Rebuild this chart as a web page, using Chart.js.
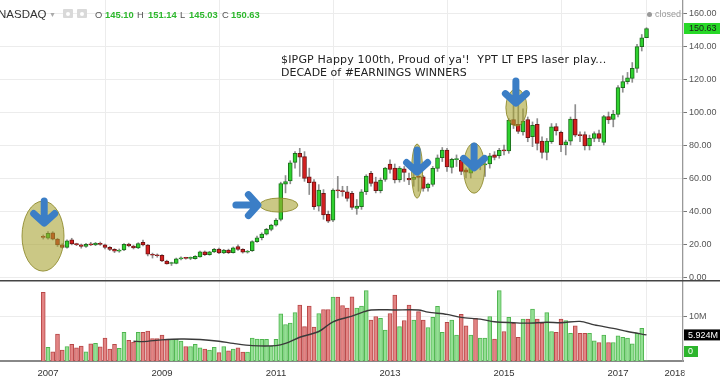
<!DOCTYPE html>
<html><head><meta charset="utf-8">
<script src="https://cdn.jsdelivr.net/npm/chart.js@4.4.0/dist/chart.umd.min.js"></script>
<style>
html,body{margin:0;padding:0;background:#fff;width:720px;height:379px;overflow:hidden;font-family:"Liberation Sans",Arial,sans-serif;}
#wrap{position:relative;width:720px;height:379px;}
canvas{position:absolute;left:0;}
#pc{top:0;}
#vc{top:280px;}
.t{position:absolute;white-space:pre;line-height:1;}
.h{top:10px;font-size:9.4px;color:#555;}
.g{top:10px;font-size:9.4px;color:#2eb82e;font-weight:bold;}
.ico{position:absolute;top:9px;width:10px;height:9px;background:#d9d9d9;border-radius:1px;}
.ico i{position:absolute;left:3px;top:2.5px;width:4px;height:4px;border-radius:50%;background:#fff;}
.note{left:281px;font-family:"DejaVu Sans",sans-serif;font-size:11px;color:#222;}
</style></head>
<body><div id="wrap">
<canvas id="pc" width="720" height="280"></canvas>
<canvas id="vc" width="720" height="99"></canvas>
<div class="t" style="left:-2px;top:9px;font-size:11.5px;color:#333">NASDAQ</div>
<div class="t" style="left:49px;top:11px;font-size:7px;color:#aaa">▼</div>
<div class="ico" style="left:63px"><i></i></div>
<div class="ico" style="left:77px"><i></i></div>
<div class="t h" style="left:95px">O</div><div class="t g" style="left:105px">145.10</div>
<div class="t h" style="left:137px">H</div><div class="t g" style="left:148px">151.14</div>
<div class="t h" style="left:180px">L</div><div class="t g" style="left:189px">145.03</div>
<div class="t h" style="left:222px">C</div><div class="t g" style="left:231px">150.63</div>
<div style="position:absolute;left:647px;top:11.5px;width:5px;height:5px;border-radius:50%;background:#999"></div>
<div class="t" style="left:655px;top:9.5px;font-size:9px;color:#999">closed</div>
<div class="t note" style="top:54px;letter-spacing:0.17px">$IPGP Happy 100th, Proud of ya'!  YPT LT EPS laser play...</div>
<div class="t note" style="top:67px">DECADE of #EARNINGS WINNERS</div>
</div>
<script>
// Monthly candles, Dec 2006 (index 0) .. Jul 2017 (index 127)
const opens = [24.5,23.5,26.8,23.0,19.5,18.0,22.5,20.0,19.5,18.5,20.0,19.5,20.5,19.5,18.0,16.8,15.6,16.4,20.0,18.8,
17.6,21.0,19.4,13.6,13.2,13.2,9.7,8.2,8.3,11.0,11.4,11.3,11.2,12.2,15.2,13.6,15.2,17.0,14.6,16.4,
14.8,18.4,16.8,15.0,16.0,21.5,23.8,26.0,28.9,31.5,34.9,56.3,58.2,69.5,75.0,73.0,60.8,57.7,43.0,50.7,
38.0,34.5,52.7,52.3,51.7,50.7,41.6,42.6,51.7,62.8,57.7,52.3,59.2,68.5,66.0,58.8,65.6,59.8,59.2,61.0,
60.8,54.0,56.1,65.9,72.3,77.0,66.5,71.2,70.8,65.0,62.9,68.2,67.5,68.0,68.5,74.0,73.5,77.0,76.5,95.5,
92.5,88.0,95.5,85.0,92.5,82.4,75.5,82.0,91.2,87.7,80.0,82.4,95.7,86.4,86.4,79.5,84.0,87.0,81.6,97.2,
95.5,98.6,114.8,118.4,120.4,126.5,139.6,145.10];
const highs = [25.5,27.5,27.5,23.5,20.2,22.5,23.5,20.5,20.0,20.5,21.0,21.0,21.2,20.0,18.5,17.2,17.0,20.3,20.5,19.3,
20.8,22.4,19.8,14.5,14.0,13.6,10.2,9.0,11.5,12.2,12.0,12.2,13.0,15.8,15.8,15.6,17.4,17.6,16.8,16.9,
18.2,19.5,17.2,16.2,22.0,24.8,26.8,29.5,32.0,35.5,57.5,61.5,70.5,76.0,78.0,76.0,66.0,59.0,56.0,53.0,
40.0,53.5,61.0,55.0,55.0,52.0,47.0,53.0,62.0,64.0,60.5,60.0,66.5,71.0,68.5,67.0,67.0,63.0,63.0,64.0,
61.5,57.0,67.0,74.0,78.5,78.0,72.0,74.0,72.0,66.0,69.0,70.0,69.0,70.0,75.0,76.0,78.0,80.0,96.0,104.0,
105.0,102.0,97.0,94.0,96.0,85.0,84.0,93.0,93.0,88.5,83.0,97.0,104.5,88.0,88.0,86.0,88.0,89.0,98.0,100.0,
101.0,116.0,122.0,124.0,130.0,141.0,147.0,151.14];
const lows = [23.0,23.0,22.5,18.5,17.5,17.5,19.5,19.0,17.5,18.0,19.0,19.0,19.2,17.0,16.0,14.8,15.0,16.0,18.3,17.0,
17.2,18.8,12.8,11.5,12.0,9.3,7.8,7.0,8.0,10.3,10.8,10.5,10.8,12.0,13.0,13.2,14.8,14.2,14.2,14.2,
14.5,16.2,14.5,14.5,15.5,21.0,22.5,25.5,28.0,30.8,34.0,51.0,56.5,66.0,61.0,58.0,50.0,41.0,40.0,35.0,
33.0,33.5,48.0,49.0,46.0,41.0,38.0,41.0,50.0,55.0,51.0,51.0,58.0,63.0,57.0,57.5,58.0,56.0,55.0,52.0,
52.0,52.0,55.0,64.0,70.0,64.0,63.0,67.0,62.0,60.0,60.0,66.0,65.0,61.0,66.0,71.0,72.0,74.0,75.0,90.0,
87.0,86.0,82.0,79.0,77.0,72.0,71.0,81.0,86.0,76.0,74.0,80.0,85.0,82.0,77.0,77.0,82.0,82.0,80.0,93.0,
91.0,97.0,112.0,117.0,118.0,124.0,137.0,145.03];
const closes = [24.0,26.5,23.0,19.5,18.0,22.0,20.0,19.6,18.5,19.8,19.5,20.5,19.8,18.0,16.8,15.6,16.4,19.8,18.8,17.6,
20.2,19.4,13.8,13.2,12.9,9.7,8.0,8.6,11.0,11.4,11.3,11.6,12.6,15.2,13.6,15.2,16.8,14.6,16.4,14.8,
17.7,16.8,15.0,15.5,21.5,23.8,26.0,28.9,31.5,34.5,56.7,57.8,69.2,75.0,72.6,59.8,57.2,42.6,52.7,37.6,
33.9,52.7,52.2,51.8,47.7,42.2,43.0,51.7,61.2,56.7,52.3,58.8,66.0,65.2,58.8,66.0,63.4,58.8,60.4,60.3,
53.7,56.3,65.9,72.3,77.0,66.8,71.4,71.6,64.0,63.5,68.0,67.2,68.3,68.6,73.5,72.5,76.8,76.5,95.1,92.2,
88.2,94.5,84.5,92.0,81.0,75.5,82.4,91.0,88.6,80.0,82.0,95.7,86.0,85.7,79.5,84.0,87.0,84.0,97.2,95.2,
98.7,114.8,118.4,120.7,126.5,139.6,145.0,150.63];
// Monthly volume, millions of shares
const volumes = [15.6,3.1,2.1,6.1,2.5,3.3,3.8,3.0,3.4,2.1,3.9,4.0,3.2,5.2,2.7,3.8,2.9,6.5,4.7,4.3,
6.5,6.5,6.8,5.1,5.1,5.9,5.0,4.9,4.9,4.5,3.3,3.3,3.8,3.0,2.7,2.5,3.1,1.9,3.3,2.3,
2.7,3.0,2.0,2.0,5.2,5.0,4.9,4.9,3.4,4.9,10.7,8.3,8.6,11.0,12.7,7.8,12.5,7.7,10.8,11.7,
11.7,14.5,14.5,12.6,12.0,14.6,12.0,12.5,16.0,9.3,10.1,9.7,7.0,10.8,15.0,7.8,9.2,12.7,9.3,11.2,
9.3,7.6,9.9,12.4,6.5,8.8,9.3,5.9,10.6,8.0,5.9,9.7,5.2,5.2,10.1,5.0,16.0,6.7,9.9,8.6,
5.4,9.5,9.5,11.8,9.5,8.6,11.0,6.7,6.5,9.5,9.2,6.3,8.0,6.3,6.3,6.3,4.6,4.2,5.9,4.2,
4.2,5.7,5.4,5.2,3.9,6.3,7.4,0.05];
// 20-month volume moving average, read at these month indices
const maMonths = [19,21,25,29,33,37,40,44,49,51,54,58,61,65,67,69,74,79,81,85,88,92,95,99,102,106,109,113,116,120,123,127];
const maValues = [4.5,4.4,4.8,5.0,4.9,4.5,4.0,3.5,3.5,4.0,5.4,6.7,8.9,10.2,11.0,11.6,11.6,11.6,11.1,10.6,9.9,9.5,8.9,8.7,8.6,8.8,8.7,9.0,8.2,7.4,6.7,5.924];
const yearLabels = ['2007','2009','2011','2013','2015','2017','2018'];
const priceTicks = [0,20,40,60,80,100,120,140,160];

const X_MIN = -9.105, X_MAX = 134.68;
const idx = closes.map((_, i) => i);
const isUp = i => closes[i] >= opens[i];
const yearTickValues = yearLabels.map(y => (parseInt(y) - 2007) * 12 + 1);
Chart.defaults.font.family = "'Liberation Sans', Arial, sans-serif";

const noPad = s => { s.paddingTop = 0; s.paddingBottom = 0; s.paddingLeft = 0; s.paddingRight = 0; };
const xScaleBase = {
  type: 'linear', min: X_MIN, max: X_MAX, offset: false,
  afterBuildTicks: s => { s.ticks = yearTickValues.map(v => ({value: v})); },
  grid: {color: '#ececec', drawTicks: false}
};

const annotations = {
  ellipses: [
    {m: -0.05, p: 24.8, rx: 21, ry: 35},
    {m: 49.6, p: 43.6, rx: 19, ry: 7},
    {m: 78.7, p: 64.2, rx: 5.5, ry: 27},
    {m: 90.7, p: 66.0, rx: 10.5, ry: 25},
    {m: 99.6, p: 102.7, rx: 10.5, ry: 18.5}
  ],
  arrows: [
    {m: 0.2, p: 32.1, dir: 'down'},
    {m: 45.4, p: 43.6, dir: 'right'},
    {m: 78.7, p: 63.0, dir: 'down'},
    {m: 90.7, p: 65.5, dir: 'down'},
    {m: 99.5, p: 104.8, dir: 'down'}
  ]
};

const annotPlugin = {
  id: 'annot',
  afterDatasetsDraw(chart) {
    const {ctx, scales: {x, y}, chartArea: ca} = chart;
    ctx.save();
    ctx.beginPath(); ctx.rect(ca.left, ca.top, ca.right - ca.left, ca.bottom - ca.top); ctx.clip();
    annotations.ellipses.forEach(e => {
      ctx.beginPath();
      ctx.ellipse(x.getPixelForValue(e.m), y.getPixelForValue(e.p), e.rx, e.ry, 0, 0, Math.PI * 2);
      ctx.fillStyle = 'rgba(165,160,45,0.58)'; ctx.fill();
      ctx.strokeStyle = 'rgba(140,135,40,0.85)'; ctx.lineWidth = 1; ctx.stroke();
    });
    ctx.strokeStyle = '#3b7ec6'; ctx.lineWidth = 7; ctx.lineCap = 'round'; ctx.lineJoin = 'round';
    annotations.arrows.forEach(a => {
      const px = x.getPixelForValue(a.m), py = y.getPixelForValue(a.p), L = 23, h = 10.5;
      ctx.beginPath();
      if (a.dir === 'down') {
        ctx.moveTo(px, py - L); ctx.lineTo(px, py - 2);
        ctx.moveTo(px - h, py - h); ctx.lineTo(px, py - 1); ctx.lineTo(px + h, py - h);
      } else {
        ctx.moveTo(px - L, py); ctx.lineTo(px - 2, py);
        ctx.moveTo(px - h, py - h); ctx.lineTo(px - 1, py); ctx.lineTo(px - h, py + h);
      }
      ctx.stroke();
    });
    ctx.restore();
    // last price label
    const yy = y.getPixelForValue(closes[closes.length - 1]);
    ctx.save();
    ctx.fillStyle = '#27d827'; ctx.fillRect(684, yy - 5.5, 36, 11);
    ctx.fillStyle = '#1b1b1b'; ctx.font = "9px 'Liberation Sans', Arial"; ctx.textBaseline = 'middle';
    ctx.fillText(closes[closes.length - 1].toFixed(2), 689, yy + 0.5);
    ctx.restore();
  }
};

new Chart(document.getElementById('pc'), {
  type: 'bar',
  data: { datasets: [
    { data: idx.map(i => ({x: i, y: [lows[i], highs[i]]})), backgroundColor: '#8e8e8e', barThickness: 1, grouped: false, order: 2 },
    { data: idx.map(i => ({x: i, y: [opens[i], closes[i]]})),
      backgroundColor: idx.map(i => isUp(i) ? '#2fd12f' : '#d51f1f'),
      borderColor: idx.map(i => isUp(i) ? '#1d6e1d' : '#6e1414'),
      borderWidth: 1, borderSkipped: false, barThickness: 4, minBarLength: 1, grouped: false, order: 1 }
  ]},
  options: {
    responsive: false, animation: false, events: [],
    layout: {padding: 0},
    plugins: {legend: {display: false}, tooltip: {enabled: false}},
    scales: {
      x: Object.assign({}, xScaleBase, {ticks: {display: false}, border: {display: false}, afterFit: s => { s.height = 0; noPad(s); }}),
      y: {position: 'right', min: -1.8, max: 167.9,
        afterBuildTicks: s => { s.ticks = priceTicks.map(v => ({value: v})); },
        ticks: {callback: v => Number(v).toFixed(2), color: '#555', font: {size: 9}, padding: 2},
        grid: {color: '#ececec', tickLength: 4, tickColor: '#777'},
        border: {color: '#999', width: 1.3},
        afterFit: s => { s.width = 37; noPad(s); } }
    }
  },
  plugins: [annotPlugin]
});

const volPlugin = {
  id: 'volLabels',
  afterDraw(chart) {
    const {ctx, scales: {y}, chartArea: ca} = chart;
    ctx.save();
    ctx.fillStyle = '#444'; ctx.fillRect(0, 0, 720, 1.5);
    ctx.font = "9px 'Liberation Sans', Arial"; ctx.textBaseline = 'middle';
    const ym = y.getPixelForValue(maValues[maValues.length - 1]);
    ctx.fillStyle = '#000'; ctx.fillRect(684, ym - 5.5, 36, 11);
    ctx.fillStyle = '#fff'; ctx.fillText(maValues[maValues.length - 1].toFixed(3) + 'M', 688, ym + 0.5);
    const yv = Math.min(y.getPixelForValue(volumes[volumes.length - 1]), ca.bottom - 9.5);
    ctx.fillStyle = '#2db52d'; ctx.fillRect(684, yv - 5.5, 14, 11);
    ctx.fillStyle = '#fff'; ctx.fillText('0', 688, yv + 0.5);
    ctx.fillStyle = '#fff'; ctx.fillRect(684.5, ca.bottom + 2, 36, 20);
    ctx.restore();
  }
};

new Chart(document.getElementById('vc'), {
  type: 'bar',
  data: { datasets: [
    { type: 'line', data: maMonths.map((m, k) => ({x: m, y: maValues[k]})), borderColor: '#3a3a3a', borderWidth: 1.4,
      pointRadius: 0, tension: 0.3, fill: false, order: 0 },
    { data: idx.map(i => ({x: i, y: volumes[i]})),
      backgroundColor: idx.map(i => isUp(i) ? '#93e093' : '#e38484'),
      borderColor: idx.map(i => isUp(i) ? '#4fb54f' : '#b84848'),
      borderWidth: 1, borderSkipped: 'bottom', barThickness: 4, order: 1 }
  ]},
  options: {
    responsive: false, animation: false, events: [],
    layout: {padding: 0},
    plugins: {legend: {display: false}, tooltip: {enabled: false}},
    scales: {
      x: Object.assign({}, xScaleBase, {
        ticks: {autoSkip: false, maxRotation: 0, color: '#333', font: {size: 9.5}, padding: 7,
          callback: (v, k) => yearLabels[k]},
        border: {display: true, color: '#888', width: 2},
        afterFit: s => { s.height = 18; noPad(s); } }),
      y: {position: 'right', min: 0, max: 18.4,
        afterBuildTicks: s => { s.ticks = [{value: 10}]; },
        ticks: {callback: v => v + 'M', color: '#555', font: {size: 9}, padding: 2},
        grid: {color: '#ececec', tickLength: 4, tickColor: '#777'},
        border: {color: '#999', width: 1.3},
        afterFit: s => { s.width = 37; noPad(s); } }
    }
  },
  plugins: [volPlugin]
});
</script>
</body></html>
